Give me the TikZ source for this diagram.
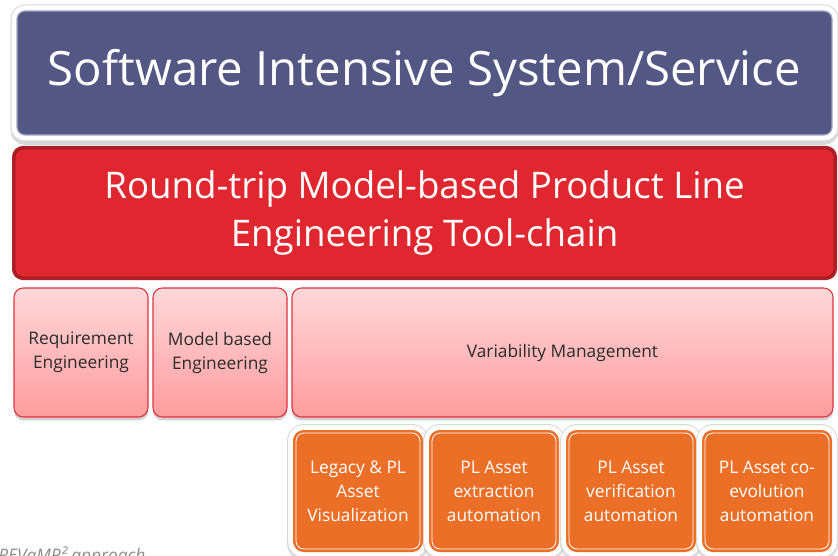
\documentclass[tikz,border=0pt]{standalone}
\usepackage{fontspec}
\setmainfont{Open Sans}
\usetikzlibrary{shadows}
\definecolor{sysblue}{HTML}{535783}
\definecolor{sysline}{HTML}{A3A6C6}
\definecolor{chainred}{HTML}{E0262F}
\definecolor{chaindark}{HTML}{B01F27}
\definecolor{pinktop}{HTML}{FFD8DA}
\definecolor{pinkbot}{HTML}{FF9C9E}
\definecolor{pinkline}{HTML}{E2323D}
\definecolor{plorange}{HTML}{EC6F28}
\definecolor{darktext}{HTML}{2B2B2B}
\tikzset{
  sysbox/.style={rounded corners=6pt, inner sep=0pt, fill=sysblue, draw=sysline, line width=0.9pt,
    text=white, font=\fontsize{35.5}{43}\selectfont,
    drop shadow={shadow xshift=0pt, shadow yshift=-2.5pt, fill=black!30, draw=black!30, line width=9.75pt},
    preaction={draw=black!15, line width=9.75pt},
    preaction={draw=white, line width=8.25pt}},
  chainbox/.style={rounded corners=6pt, inner sep=0pt, fill=chainred, draw=chaindark!85!black, line width=0.6pt,
    text=white, align=center, font=\fontsize{27.5}{36}\selectfont,
    preaction={draw=chaindark, line width=4.5pt}},
  areabox/.style={rounded corners=7pt, inner sep=0pt, top color=pinktop, bottom color=pinkbot,
    draw=pinkline, line width=0.8pt, text=darktext, align=center, font=\fontsize{13}{18}\selectfont,
    drop shadow={shadow xshift=0pt, shadow yshift=-2.5pt, fill=black!40, opacity=.45}},
  appbox/.style={rounded corners=6pt, inner sep=0pt, fill=plorange, draw=white, line width=0.6pt,
    text=white, align=center, font=\fontsize{13}{18}\selectfont,
    drop shadow={shadow xshift=0pt, shadow yshift=-2pt, fill=black!25, draw=black!25, line width=13.5pt},
    preaction={draw=black!15, line width=13.5pt},
    preaction={draw=white, line width=12pt},
    preaction={draw=plorange, line width=4.5pt}},
}
\begin{document}
\begin{tikzpicture}[x=0.75pt,y=-0.75pt]
  \useasboundingbox (0,0) rectangle (838,556);

  \node (sys) at (424.5,73) [sysbox, minimum width=611.25pt, minimum height=93pt] {Software Intensive System/Service};

  \node (chain) at (424.5,213) [chainbox, minimum width=614.25pt, minimum height=96pt]
    {Round-trip Model-based Product Line\\Engineering Tool-chain};

  \node (req) at (81,352.5) [areabox, minimum width=100.5pt, minimum height=96.75pt] {Requirement\\Engineering};
  \node (mbe) at (220,352.5) [areabox, minimum width=100.5pt, minimum height=96.75pt] {Model based\\Engineering};
  \node (var) at (562.5,352.5) [areabox, minimum width=405.75pt, minimum height=96.75pt] {Variability Management};

  \node (vis) at (358,491) [appbox, minimum width=93pt, minimum height=87pt] {Legacy \& PL\\Asset\\Visualization};
  \node (ext) at (494,491) [appbox, minimum width=93pt, minimum height=87pt] {PL Asset\\extraction\\automation};
  \node (ver) at (631,491) [appbox, minimum width=93pt, minimum height=87pt] {PL Asset\\verification\\automation};
  \node (coev) at (767,491) [appbox, minimum width=93pt, minimum height=87pt] {PL Asset co-\\evolution\\automation};

  \node (caption) at (-2,561) [anchor=base west, inner sep=0pt, text=black!45,
    font=\fontsize{13}{16}\selectfont\itshape] {REVaMP² approach};
\end{tikzpicture}
\end{document}
